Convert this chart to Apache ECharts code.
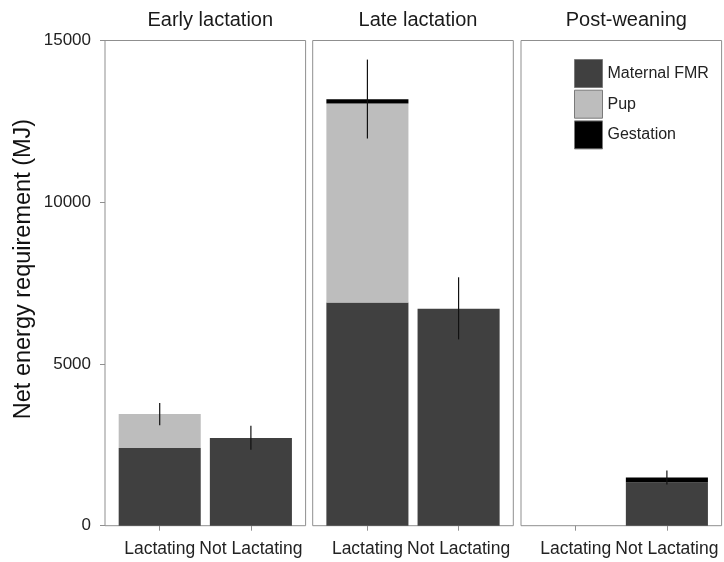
<!DOCTYPE html>
<html>
<head>
<meta charset="utf-8">
<script src="https://cdn.jsdelivr.net/npm/echarts@6/dist/echarts.min.js"></script>
<style>html,body{margin:0;padding:0;background:#fff;}#chart{width:724px;height:562px;}</style>
</head>
<body>
<div id="chart"></div>
<script>
// ---- data ----
const panels = ['Early lactation', 'Late lactation', 'Post-weaning'];
const categories = ['Lactating', 'Not Lactating'];
const seriesNames = ['Maternal FMR', 'Pup', 'Gestation'];
// values per panel: [Lactating, Not Lactating]
const maternalEarly = [2400, 2710];
const maternalLate = [6900, 6710];
const maternalPost = [null, 1335];
const pupEarly = [1050, null];
const pupLate = [6150, null];
const pupPost = [null, null];
const gestationEarly = [null, null];
const gestationLate = [130, null];
const gestationPost = [null, 155];
// error bars [low, high]
const errLowEarly = [3105, 2350];
const errHighEarly = [3790, 3090];
const errLowLate = [11970, 5760];
const errHighLate = [14410, 7680];
const errLowPost = [null, 1270];
const errHighPost = [null, 1710];
const yTicks = [0, 5000, 10000, 15000];

const maternal = [maternalEarly, maternalLate, maternalPost];
const pup = [pupEarly, pupLate, pupPost];
const gestation = [gestationEarly, gestationLate, gestationPost];
const errLow = [errLowEarly, errLowLate, errLowPost];
const errHigh = [errHighEarly, errHighLate, errHighPost];

// ---- layout ----
const FONT = 'Liberation Sans, Arial, Helvetica, sans-serif';
const panelLeft = [105, 312.7, 521];
const panelWidth = 200.6;
const panelTop = 40.5;
const panelHeight = 485.2;
const inset = panelWidth / 2.2 * 0.1; // ggplot 0.6 expansion
const colors = ['#404040', '#bdbdbd', '#000000'];
const yMax = yTicks[yTicks.length - 1];

const grid = [], xAxis = [], yAxis = [], series = [], title = [];
panels.forEach((p, i) => {
  // border grid
  grid.push({left: panelLeft[i], top: panelTop, width: panelWidth, height: panelHeight,
    show: true, borderColor: '#8f8f8f', borderWidth: 1, backgroundColor: 'transparent'});
  xAxis.push({gridIndex: i, type: 'value', min: 0, max: 1, show: false});
  yAxis.push({gridIndex: i, type: 'value', min: 0, max: yMax, interval: 5000, show: i === 0,
    axisLine: {show: false},
    axisTick: {show: true, length: 5, lineStyle: {color: '#8f8f8f'}},
    axisLabel: {fontSize: 17, color: '#222', margin: 14, fontFamily: FONT,
      formatter: v => String(v)},
    splitLine: {show: false}});
  title.push({text: p, left: panelLeft[i] + panelWidth / 2, top: 5, textAlign: 'center',
    textStyle: {fontSize: 20, fontWeight: 'normal', color: '#1a1a1a', fontFamily: FONT}});
});
panels.forEach((p, i) => {
  const gi = 3 + i;
  grid.push({left: panelLeft[i] + inset, top: panelTop, width: panelWidth - 2 * inset, height: panelHeight});
  xAxis.push({gridIndex: gi, type: 'category', data: categories,
    axisLine: {show: false},
    axisTick: {show: true, alignWithLabel: true, length: 5, lineStyle: {color: '#8f8f8f'}},
    axisLabel: {interval: 0, fontSize: 17.5, color: '#222', margin: 14, fontFamily: FONT}});
  yAxis.push({gridIndex: gi, type: 'value', min: 0, max: yMax, show: false, splitLine: {show: false}});
  const vals = [maternal[i], pup[i], gestation[i]];
  seriesNames.forEach((n, k) => {
    series.push({name: n, type: 'bar', stack: 'p' + i, xAxisIndex: gi, yAxisIndex: gi,
      barWidth: '90%', data: vals[k], itemStyle: {color: colors[k]}, silent: true, animation: false});
  });
  const errData = categories.map((c, j) => [j, errLow[i][j], errHigh[i][j]])
    .filter(d => d[1] != null);
  series.push({type: 'custom', xAxisIndex: gi, yAxisIndex: gi, data: errData, z: 10, animation: false,
    renderItem: function (params, api) {
      const lo = api.coord([api.value(0), api.value(1)]);
      const hi = api.coord([api.value(0), api.value(2)]);
      return {type: 'line', shape: {x1: lo[0], y1: lo[1], x2: hi[0], y2: hi[1]},
        style: {stroke: '#111', lineWidth: 1.2}};
    }});
});

const chart = echarts.init(document.getElementById('chart'), null, {renderer: 'canvas'});
chart.setOption({
  backgroundColor: '#fff',
  animation: false,
  title: title,
  grid: grid, xAxis: xAxis, yAxis: yAxis, series: series,
  legend: {data: seriesNames, orient: 'vertical', left: 569, top: 54,
    itemWidth: 28, itemHeight: 28, itemGap: 1.7, icon: 'rect',
    itemStyle: {borderColor: '#7a7a7a', borderWidth: 1},
    textStyle: {fontSize: 16, color: '#222', fontFamily: FONT}},
  graphic: [{type: 'text', x: 23.5, y: 269, rotation: Math.PI / 2,
    style: {text: 'Net energy requirement (MJ)', fontSize: 23.5, fill: '#111', fontFamily: FONT,
      align: 'center', verticalAlign: 'middle'}}]
});
</script>
</body>
</html>
